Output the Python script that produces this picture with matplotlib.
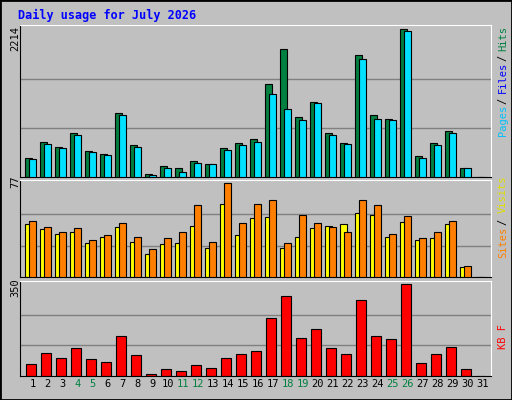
import numpy as np
import matplotlib.pyplot as plt
from matplotlib.patches import Rectangle

days = np.arange(1, 32)
hits = [290, 527, 452, 663, 392, 346, 964, 482, 45, 166, 136, 241, 196, 437, 512, 572, 1400, 1913, 904, 1130, 663, 512, 1823, 934, 874, 2214, 316, 512, 693, 136, 0]
files = [271, 497, 437, 633, 377, 331, 934, 452, 30, 136, 75, 211, 196, 407, 482, 527, 1250, 1019, 859, 1115, 633, 497, 1763, 874, 859, 2184, 286, 482, 663, 136, 0]
sites = [43, 39, 35, 37, 28, 33, 41, 29, 19, 27, 28, 42, 24, 60, 34, 48, 49, 24, 33, 40, 42, 43, 52, 51, 33, 45, 30, 32, 43, 8, 0]
visits = [46, 41, 37, 40, 30, 34, 44, 33, 23, 32, 37, 59, 29, 77, 44, 60, 63, 28, 51, 44, 41, 37, 63, 59, 35, 50, 32, 37, 46, 9, 0]
kbytes = [47, 86, 70, 105, 63, 55, 151, 78, 9, 25, 20, 40, 32, 70, 82, 93, 220, 304, 143, 178, 105, 82, 289, 151, 139, 350, 51, 82, 109, 25, 0]
weekend = [4, 5, 11, 12, 18, 19, 25, 26]

bg = '#c0c0c0'
mono = 'DejaVu Sans Mono'
fig = plt.figure(figsize=(5.12, 4.0), dpi=100, facecolor=bg)
fig.patches.append(Rectangle((0, 0), 1, 1, transform=fig.transFigure, fill=False,
                             edgecolor='black', linewidth=2))
fig.text(0.035, 0.962, 'Daily usage for July 2026', color='#0000ff', fontsize=8.5,
         fontweight='bold', family=mono, va='center')

boxes = [(0.5575, 0.38), (0.3075, 0.2425), (0.06, 0.2375)]
axes = []
for b, h in boxes:
    ax = fig.add_axes([20 / 512, b, 471 / 512, h], facecolor=bg)
    ax.set_xlim(0.153, 31.55)
    for s in ax.spines.values():
        s.set_color('black')
    ax.spines['top'].set_color('white')
    ax.spines['right'].set_color('white')
    ax.tick_params(length=0, labelleft=False)
    axes.append(ax)

w = 0.47
off = 0.27
x0 = days - 0.49

def panel(ax, top, series, colors):
    ax.set_ylim(0, top * 1.03)
    for g in (top / 3, 2 * top / 3):
        ax.axhline(g, color='#808080', linewidth=1, zorder=0)
    for k, (vals, c) in enumerate(zip(series, colors)):
        ax.bar(x0 + k * off, vals, width=w, align='edge', color=c,
               edgecolor='black', linewidth=0.8, zorder=2 + k)
    ax.set_xticks([])

panel(axes[0], 2214, [hits, files], ['#008040', '#00e0ff'])
panel(axes[1], 77, [sites, visits], ['#ffff00', '#ff8000'])
ax = axes[2]
ax.set_ylim(0, 350 * 1.03)
for g in (350 / 3, 700 / 3):
    ax.axhline(g, color='#808080', linewidth=1, zorder=0)
ax.bar(days - 0.45, kbytes, width=0.7, align='edge', color='#ff0000',
       edgecolor='black', linewidth=0.8, zorder=2)
ax.set_xticks(days)
ax.set_xticklabels([str(d) for d in days], family=mono, fontsize=7.5)
ax.tick_params(axis='x', pad=2)
for lab, d in zip(ax.get_xticklabels(), days):
    lab.set_color('#008040' if d in weekend else 'black')

for y, t in [(0.935, '2214'), (0.56, '77'), (0.305, '350')]:
    fig.text(0.03, y, t, rotation=90, family=mono, fontsize=7.5, va='top', ha='center')

def side(parts, ytop):
    y = ytop
    for t, c in parts:
        fig.text(0.982, y, t, rotation=90, family=mono, fontsize=7.5, color=c,
                 va='top', ha='center')
        y -= len(t) * 7.2 / 400

side([('Hits', '#008040'), ('/', 'black'), ('Files', '#0000ff'), ('/', 'black'), ('Pages', '#00c0ff')], 0.935)
side([('Visits', '#e0e000'), ('/', 'black'), ('Sites', '#ff8000')], 0.56)
side([('KB F', '#ff0000')], 0.19)

fig.savefig('out.png', dpi=100, facecolor=bg)
